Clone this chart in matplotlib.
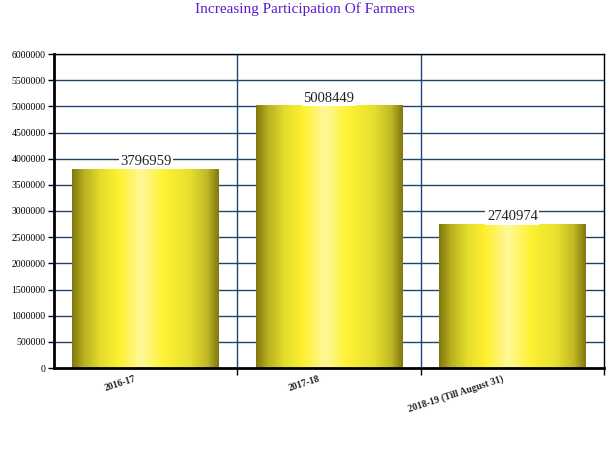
import matplotlib
matplotlib.use("Agg")
import matplotlib.pyplot as plt
import numpy as np
from matplotlib.colors import LinearSegmentedColormap

categories = ["2016-17", "2017-18", "2018-19 (Till August 31)"]
values = [3796959, 5008449, 2740974]
yticks = list(range(0, 6000001, 500000))

fig = plt.figure(figsize=(6.10, 4.49), dpi=100)
ax = fig.add_axes([54/610, 1-368/449, (604-54)/610, (368-54)/449])

serif = "Liberation Serif"
grid_c = "#1f4370"

cmap = LinearSegmentedColormap.from_list("bar", [
    (0.0, "#80780e"), (0.08, "#b8b020"), (0.2, "#e6de2c"), (0.32, "#fff030"),
    (0.47, "#fff89a"), (0.62, "#fff234"), (0.8, "#e8e030"), (0.92, "#c0b824"),
    (1.0, "#807810")])
grad = np.linspace(0, 1, 256).reshape(1, -1)

width = 0.8
for i, v in enumerate(values):
    ax.imshow(grad, cmap=cmap, aspect="auto", extent=(i - width/2, i + width/2, 0, v),
              zorder=3, interpolation="bilinear")
    ax.annotate(f"{v}", xy=(i, v), xytext=(0, 1), textcoords="offset points",
                ha="center", va="bottom", fontsize=10.5, family=serif,
                color="#222222", zorder=5,
                bbox=dict(facecolor="white", edgecolor="none", pad=1.0))

ax.set_xlim(-0.5, len(values) - 0.5)
ax.set_ylim(0, 6000000)

for y in yticks[1:]:
    ax.axhline(y, color=grid_c, lw=1, zorder=1)
for x in [0.5, 1.5]:
    ax.axvline(x, color=grid_c, lw=1, zorder=1)

ax.set_yticks(yticks)
ax.set_yticklabels([str(t) for t in yticks], fontsize=7, family=serif)
ax.set_xticks([0.5, 1.5, 2.5])
ax.set_xticklabels([])
ax.tick_params(axis="y", direction="out", length=4, width=1, color="#000000", pad=2)
ax.tick_params(axis="x", direction="out", length=5, width=1, color="#000000")

for i, c in enumerate(categories):
    ax.text(i - 0.06, -0.02, c, transform=ax.get_xaxis_transform(), rotation=18,
            rotation_mode="anchor", ha="right", va="top", fontsize=7, family=serif,
            fontweight="bold", color="#222222")

for s in ["left", "bottom"]:
    ax.spines[s].set_linewidth(2)
for s in ["top", "right"]:
    ax.spines[s].set_linewidth(1)
for s in ax.spines.values():
    s.set_color("black")
    s.set_zorder(6)

fig.text(0.5, 1 - 9/449, "Increasing Participation Of Farmers", ha="center", va="center",
         fontsize=11, family=serif, color="#5a1ad0")

fig.savefig("out.png", dpi=100)
